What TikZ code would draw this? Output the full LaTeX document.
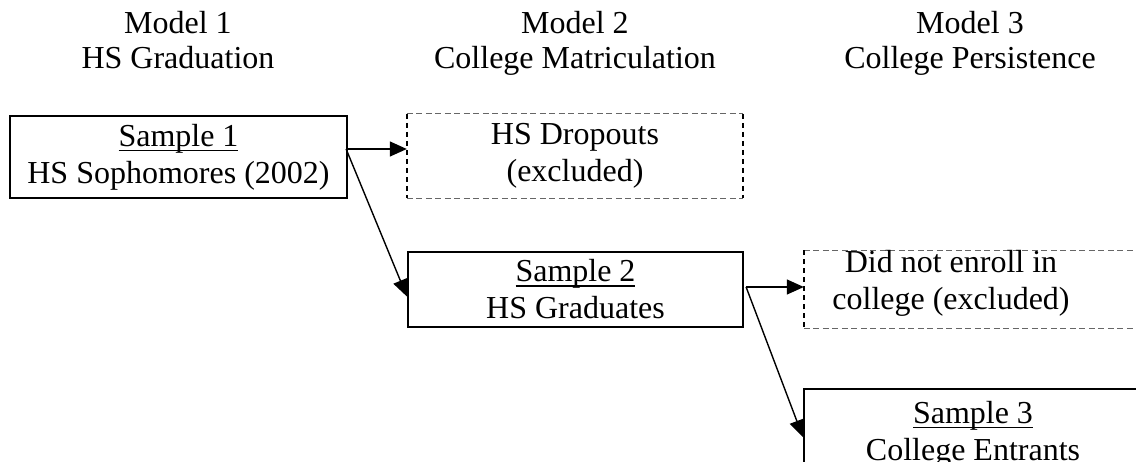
\documentclass[tikz,border=0pt]{standalone}
\usepackage{fontspec}
\setmainfont{Liberation Serif}
\usetikzlibrary{arrows.meta,positioning}
\newcommand\myul[1]{\setbox0\hbox{#1}\rlap{\rule[-5pt]{\wd0}{1.5pt}}\box0}
\begin{document}
\begin{tikzpicture}[x=1pt,y=-1pt,
  every node/.style={font=\fontsize{32}{37}\selectfont, inner sep=0pt, align=center},
  header/.style={font=\fontsize{32}{35}\selectfont, anchor=north},
  solidbox/.style={draw, line width=2.2pt},
  dashbox/.style={},
  dashh/.style={draw=black!60, line width=1pt, dash pattern=on 6pt off 3.5pt},
  dashv/.style={draw=black, line width=2pt, dash pattern=on 5pt off 4pt},
  arr/.style={line width=1.4pt, -{Triangle[length=17pt,width=15pt]}}
]
\path[use as bounding box, clip] (0,0) rectangle (1136,461);
\fill[white] (0,0) rectangle (1136,461);

% headers
\node[header] (h1) at (178,11) {Model 1\\HS Graduation};
\node[header] (h2) at (575,11) {Model 2\\College Matriculation};
\node[header] (h3) at (970,11) {Model 3\\College Persistence};

% boxes
\node[solidbox, minimum width=337pt, minimum height=82pt] (s1) at (178.5,157)
  {\myul{Sample 1}\\HS Sophomores (2002)};
\node[dashbox, minimum width=336pt, minimum height=84pt] (d1) at (575,156)
  {HS Dropouts\\(excluded)};
\draw[dashh] (d1.north west) -- (d1.north east);
\draw[dashh] (d1.south west) -- (d1.south east);
\draw[dashv] (d1.north west) -- (d1.south west);
\draw[dashv] (d1.north east) -- (d1.south east);
\node[solidbox, minimum width=335pt, minimum height=75pt] (s2) at (575.5,289.5)
  {\myul{Sample 2}\\HS Graduates};
\node[dashbox, minimum width=340pt, minimum height=78pt] (ne) at (974,289.5) {};
\draw[dashh] (ne.north west) -- (ne.north east);
\draw[dashh] (ne.south west) -- (ne.south east);
\draw[dashv] (ne.north west) -- (ne.south west);
\node[anchor=north, font=\fontsize{32}{36.5}\selectfont] (netxt) at (951,250.5)
  {Did not enroll in\\college (excluded)};
\node[solidbox, minimum width=338pt, minimum height=90pt] (s3) at (973,434)
  {\myul{Sample 3}\\College Entrants};

% connectors
\coordinate (o1) at ([xshift=-2pt,yshift=8pt]s1.east);
\coordinate (o2) at ([xshift=2pt,yshift=2.5pt]s2.east);
\draw[arr] (o1) -- (o1 -| d1.west);
\draw[arr] (o1) -- ([yshift=-7pt]s2.west);
\draw[arr] (o2) -- (o2 -| ne.west);
\draw[arr] (o2) -- ([yshift=-3pt]s3.west);
\end{tikzpicture}
\end{document}
